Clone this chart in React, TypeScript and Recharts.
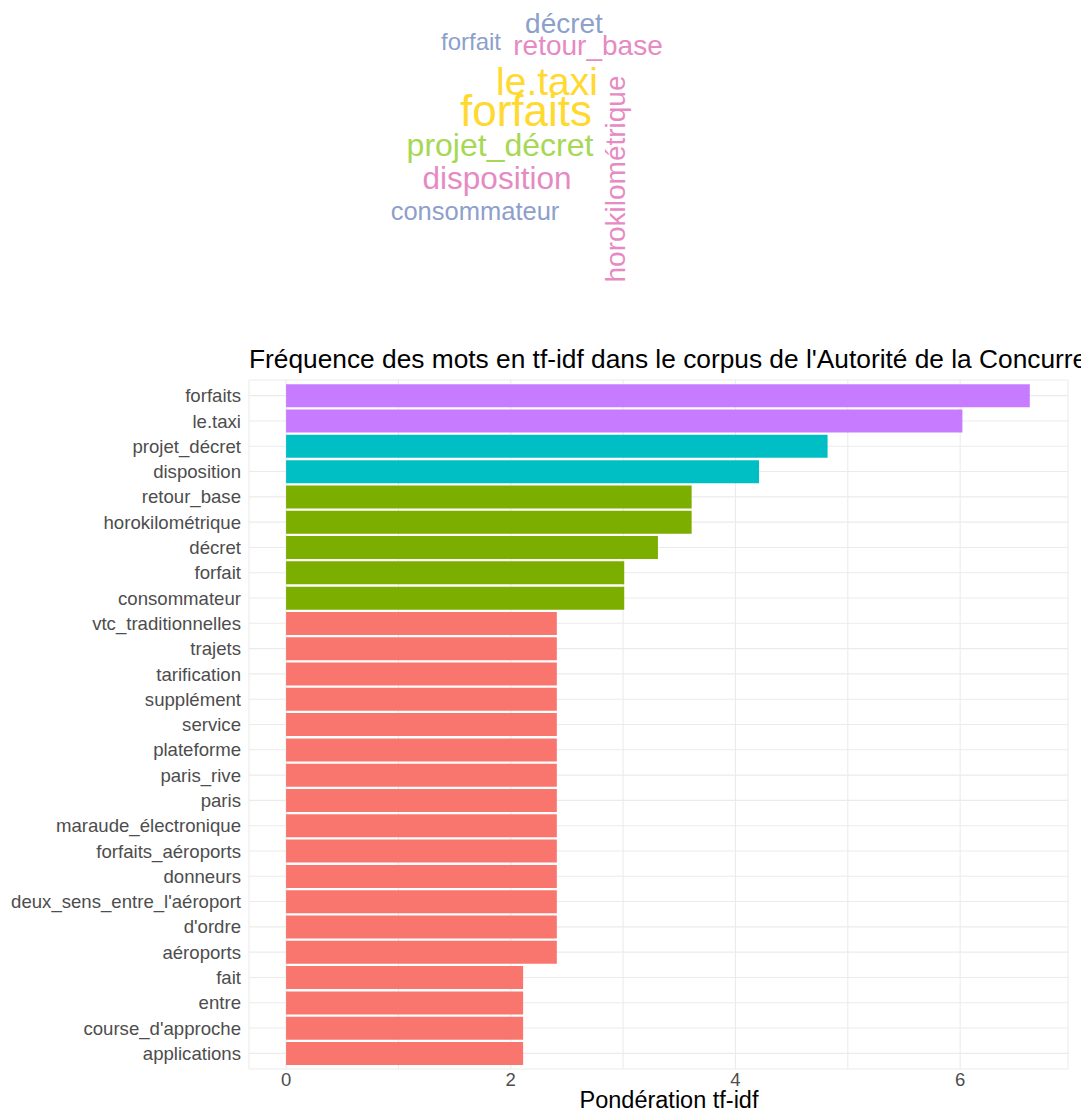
import React from "react";
import { BarChart, Bar, XAxis, YAxis, CartesianGrid, Cell } from "recharts";

const words = [
  "forfaits",
  "le.taxi",
  "projet_décret",
  "disposition",
  "retour_base",
  "horokilométrique",
  "décret",
  "forfait",
  "consommateur",
  "vtc_traditionnelles",
  "trajets",
  "tarification",
  "supplément",
  "service",
  "plateforme",
  "paris_rive",
  "paris",
  "maraude_électronique",
  "forfaits_aéroports",
  "donneurs",
  "deux_sens_entre_l'aéroport",
  "d'ordre",
  "aéroports",
  "fait",
  "entre",
  "course_d'approche",
  "applications",
];

const tfidf = [
  6.62, 6.02, 4.82, 4.21, 3.61, 3.61, 3.31, 3.01, 3.01, 2.41, 2.41, 2.41,
  2.41, 2.41, 2.41, 2.41, 2.41, 2.41, 2.41, 2.41, 2.41, 2.41, 2.41, 2.11,
  2.11, 2.11, 2.11,
];

// groupe de couleur par mot (ordre ggplot : 1 = rouge … 4 = violet)
const groups = [4, 4, 3, 3, 2, 2, 2, 2, 2, 1, 1, 1, 1, 1, 1, 1, 1, 1, 1, 1, 1, 1, 1, 1, 1, 1, 1];

const xTicks = [0, 1, 2, 3, 4, 5, 6];

// nuage de mots (couleurs Set2)
const cloudWords = [
  "décret",
  "forfait",
  "retour_base",
  "le.taxi",
  "forfaits",
  "horokilométrique",
  "projet_décret",
  "disposition",
  "consommateur",
];

const GROUP_COLOR: Record<number, string> = {
  1: "#F8766D",
  2: "#7CAE00",
  3: "#00BFC4",
  4: "#C77CFF",
};

const CLOUD_COLOR: Record<string, string> = {
  blue: "#8da0cb",
  pink: "#e78ac3",
  yellow: "#ffd92f",
  green: "#a6d854",
};

// placement du nuage : x, y (ligne de base), taille, couleur, rotation
const CLOUD_LAYOUT: Record<string, { x: number; y: number; size: number; color: string; rotate?: boolean }> = {
  "décret": { x: 564, y: 33, size: 28, color: "blue" },
  forfait: { x: 471, y: 50, size: 24, color: "blue" },
  retour_base: { x: 588, y: 55, size: 28, color: "pink" },
  "le.taxi": { x: 547, y: 95, size: 39, color: "yellow" },
  forfaits: { x: 526, y: 126, size: 44, color: "yellow" },
  "horokilométrique": { x: 625, y: 179, size: 28, color: "pink", rotate: true },
  "projet_décret": { x: 500, y: 156, size: 32, color: "green" },
  disposition: { x: 497, y: 189, size: 31.5, color: "pink" },
  consommateur: { x: 475, y: 220, size: 25.5, color: "blue" },
};

const FONT = '"Liberation Sans", Arial, sans-serif';

const data = words.map((w, i) => ({ word: w, value: tfidf[i], group: groups[i] }));

function WordCloud() {
  return (
    <svg width={1081} height={330} style={{ position: "absolute", left: 0, top: 0 }}>
      {cloudWords.map((w) => {
        const p = CLOUD_LAYOUT[w];
        return (
          <text
            key={w}
            x={p.x}
            y={p.y}
            fontSize={p.size}
            fontFamily={FONT}
            fill={CLOUD_COLOR[p.color]}
            textAnchor="middle"
            transform={p.rotate ? `rotate(-90 ${p.x} ${p.y})` : undefined}
          >
            {w}
          </text>
        );
      })}
    </svg>
  );
}

export default function App() {
  return (
    <div
      style={{
        position: "absolute",
        left: 0,
        top: 0,
        width: 1081,
        height: 1112,
        overflow: "hidden",
        background: "#fff",
        fontFamily: FONT,
      }}
    >
      <WordCloud />
      <div
        style={{
          position: "absolute",
          left: 249,
          top: 344,
          fontSize: 26.3,
          lineHeight: "30px",
          color: "#000",
          whiteSpace: "nowrap",
        }}
      >
        Fréquence des mots en tf-idf dans le corpus de l'Autorité de la Concurrence
      </div>
      <div style={{ position: "absolute", left: 0, top: 340 }}>
        <BarChart
          width={1081}
          height={772}
          data={data}
          layout="vertical"
          margin={{ top: 40, right: 13, left: 0, bottom: 0 }}
          barCategoryGap="5%"
        >
          <CartesianGrid stroke="#ebebeb" strokeWidth={1.1} />
          <XAxis
            type="number"
            domain={[-0.33, 6.96]}
            ticks={xTicks}
            allowDataOverflow
            tickFormatter={(v) => (v % 2 === 0 ? String(v) : "")}
            axisLine={false}
            tickLine={false}
            tickSize={3}
            tickMargin={1}
            height={43}
            tick={{ fontSize: 18.5, fill: "#4d4d4d", fontFamily: FONT }}
          />
          <YAxis
            type="category"
            dataKey="word"
            width={249}
            axisLine={false}
            tickLine={false}
            interval={0}
            padding={{ top: 3, bottom: 3 }}
            tick={{ fontSize: 18.6, fill: "#4d4d4d", fontFamily: FONT }}
          />
          <Bar dataKey="value" isAnimationActive={false}>
            {data.map((d) => (
              <Cell key={d.word} fill={GROUP_COLOR[d.group]} />
            ))}
          </Bar>
        </BarChart>
      </div>
      <div
        style={{
          position: "absolute",
          left: 569,
          width: 200,
          top: 1087,
          textAlign: "center",
          fontSize: 23.5,
          lineHeight: "26px",
          color: "#000",
          whiteSpace: "nowrap",
        }}
      >
        Pondération tf-idf
      </div>
    </div>
  );
}
